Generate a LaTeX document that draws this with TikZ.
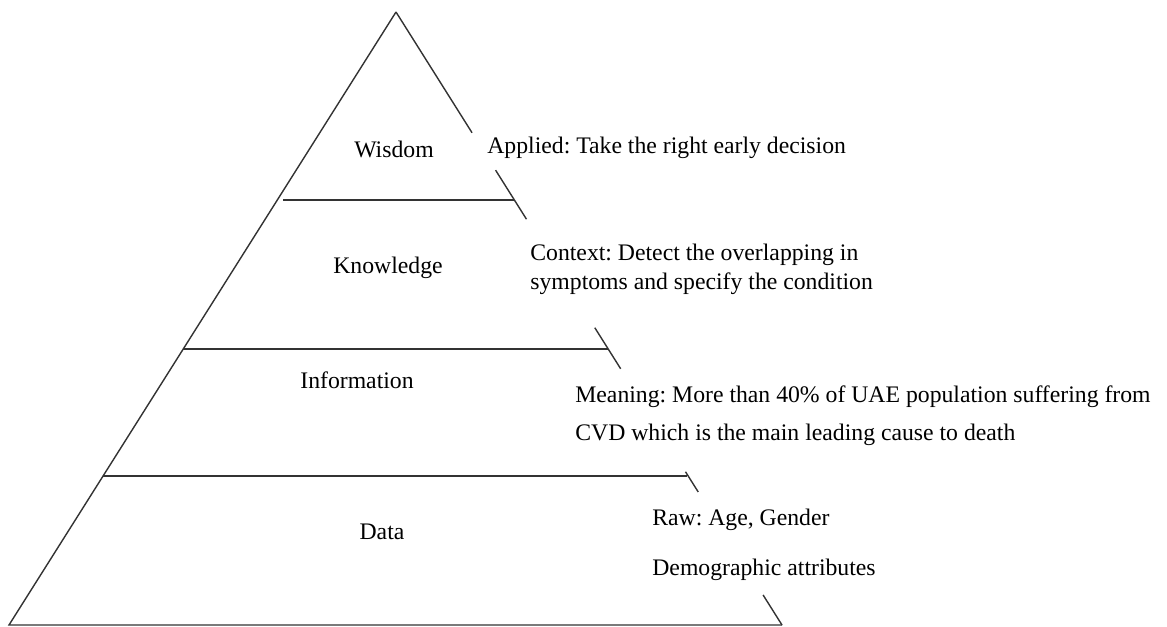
\documentclass[tikz,border=0pt]{standalone}
\usepackage{fontspec}
\setmainfont{Liberation Serif}
\usetikzlibrary{calc}
\frenchspacing

\begin{document}
\begin{tikzpicture}[x=0.02cm,y=-0.02cm,
    layer/.style={anchor=base,inner sep=0pt,font=\fontsize{13.5}{16}\selectfont},
    note/.style={anchor=base west,inner sep=0pt,font=\fontsize{13.5}{16}\selectfont},
    edge/.style={line width=0.8pt,draw=black!80}]
    \useasboundingbox (0,0) rectangle (1167,626);

    % outline of the pyramid
    \coordinate (apex) at (396,12);
    \coordinate (bl) at (9,625);
    \coordinate (br) at (782,625);
    \draw[edge] (br) -- (bl) -- (apex);
    % the right side only shows between the notes
    \foreach \a/\b in {0/0.197,0.258/0.338,0.515/0.582,0.750/0.783,0.951/1}
      \draw[edge] ($(apex)!\a!(br)$) -- ($(apex)!\b!(br)$);

    % borders between the layers
    \draw[edge] (283,200) -- (514,200);
    \draw[edge] (183,349) -- (608,349);
    \draw[edge] (103,476) -- (687,476);

    % layers
    \node[layer] (wisdom) at (394,157) {Wisdom};
    \node[layer] (knowledge) at (388,273) {Knowledge};
    \node[layer] (information) at (357,388) {Information};
    \node[layer] (data) at (382,539) {Data};

    % notes beside each layer
    \node[note] (applied) at (487,153) {Applied: Take the right early decision};
    \node[note] (context) at (530,260) {Context: Detect the overlapping in};
    \node[note] (context2) at (530,289) {symptoms and specify the condition};
    \node[note] (meaning) at (575,402) {Meaning: More than 40\% of UAE population suffering from};
    \node[note] (meaning2) at (575,440) {CVD which is the main leading cause to death};
    \node[note] (raw) at (652,525) {Raw: Age, Gender};
    \node[note] (demo) at (652,575) {Demographic attributes};
  \end{tikzpicture}
\end{document}
